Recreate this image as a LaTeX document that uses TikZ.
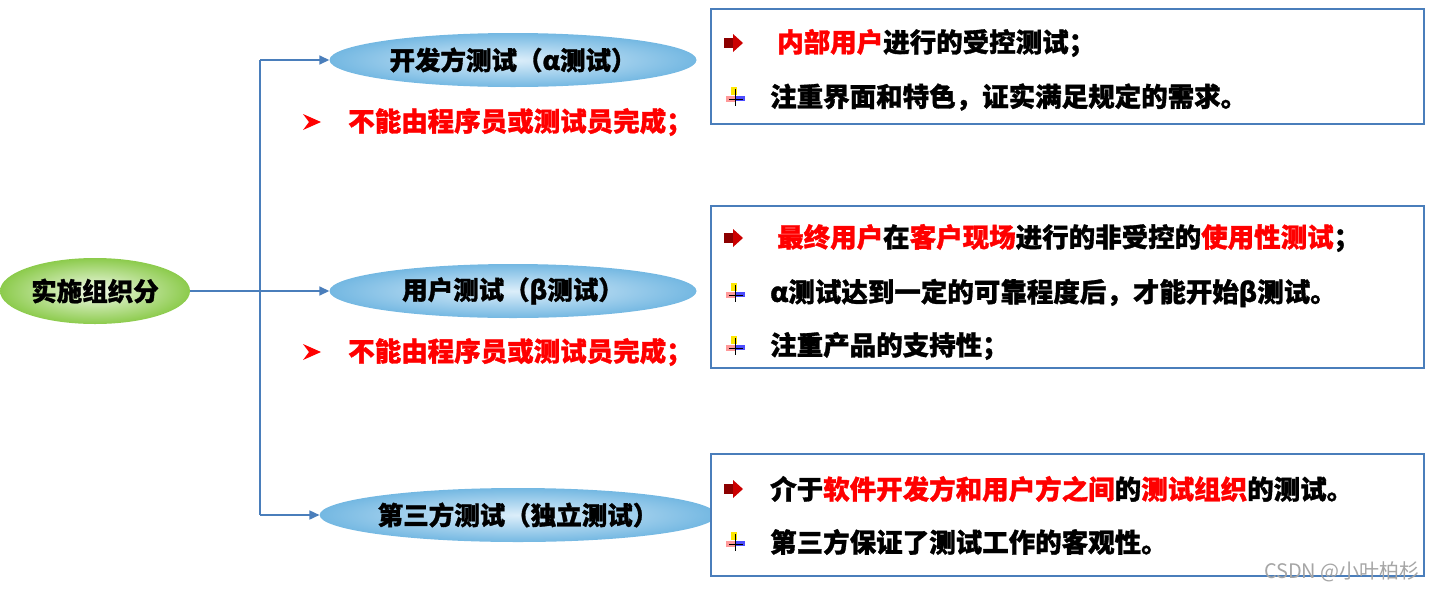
\documentclass[tikz,border=0pt]{standalone}
\usepackage{fontspec}
\setmainfont{Noto Sans CJK SC Bold}[FakeBold=1.2]
\newfontfamily\wmfont{Noto Sans CJK SC}
\usetikzlibrary{shapes.geometric,arrows.meta}
\definecolor{lnblue}{HTML}{4A7EBB}
\definecolor{rd}{HTML}{FF0000}
\definecolor{ellin}{HTML}{DCEEFA}
\definecolor{ellout}{HTML}{74B8E2}
\definecolor{grin}{HTML}{F2FAEA}
\definecolor{grout}{HTML}{8CCB4C}
\tikzset{
  blueell/.style={ellipse,inner sep=0pt,inner color=ellin,outer color=ellout,font=\bfseries\fontsize{25.5}{27}\selectfont},
  greenell/.style={ellipse,inner sep=0pt,inner color=grin,outer color=grout,font=\bfseries\fontsize{25.5}{27}\selectfont},
  conn/.style={draw=lnblue,line width=1.6pt},
  arr/.style={conn,-{Triangle[length=10pt,width=9pt]}},
  infobox/.style={draw=lnblue,line width=1.8pt,fill=white},
  txt/.style={anchor=west,inner sep=0pt,font=\bfseries\fontsize{26.5}{28}\selectfont},
  redtxt/.style={txt,text=rd},
}
\newcommand{\rarrowbullet}[2]{%
  \fill[red!55!black] (#1-9,#2-5) rectangle (#1,#2+5);
  \fill[red!80!black] (#1,#2-9) -- (#1+10,#2) -- (#1,#2+9) -- cycle;}
\newcommand{\crossbullet}[2]{%
  \fill[yellow!90!orange] (#1-4,#2-10) rectangle (#1+2,#2-2);
  \fill[red!40] (#1-9,#2-1) rectangle (#1,#2+5);
  \fill[blue!70] (#1,#2-1) rectangle (#1+10,#2+4);
  \draw[black,line width=1pt] (#1,#2-8) -- (#1,#2+9) (#1-6,#2+2) -- (#1+8,#2+2);}
\newcommand{\pointer}[2]{%
  \fill[rd] (#1-9,#2-8) -- (#1+9,#2) -- (#1-9,#2+8) -- (#1-3,#2) -- cycle;}
\begin{document}
\begin{tikzpicture}[x=1pt,y=-1pt]
\useasboundingbox (0,0) rectangle (1433,590);
% nodes
\node[greenell,minimum width=190pt,minimum height=66pt] (root) at (95,291) {实施组织分};
\node[blueell,minimum width=367pt,minimum height=54pt] (a) at (513,60) {开发方测试（α测试）};
\node[blueell,minimum width=367pt,minimum height=54pt] (b) at (513,291) {用户测试（β测试）};
\node[blueell,minimum width=357pt,minimum height=54pt] (c) at (518,515) {第三方测试（独立测试）};
\coordinate (j) at (260,291);
\draw[conn] (root.east) -- (j);
\draw[conn] (j) -- (260,60);
\draw[conn] (j) -- (260,515);
\draw[arr] (260,60) -- (a.west);
\draw[arr] (j) -- (b.west);
\draw[arr] (260,515) -- (c.west);
% red notes
\pointer{312}{122}
\node[redtxt] (na) at (348,122) {不能由程序员或测试员完成；};
\pointer{312}{352}
\node[redtxt] (nb) at (348,352) {不能由程序员或测试员完成；};
% boxes
\node[infobox,anchor=north west,minimum width=713pt,minimum height=115pt,inner sep=0pt] (ba) at (710,8) {};
\node[infobox,anchor=north west,minimum width=713pt,minimum height=162pt,inner sep=0pt] (bb) at (710,205) {};
\node[infobox,anchor=north west,minimum width=713pt,minimum height=122pt,inner sep=0pt] (bc) at (710,453) {};
% box 1
\rarrowbullet{733}{43}
\node[txt] (a1) at (777,43) {\textcolor{rd}{内部用户}进行的受控测试；};
\crossbullet{735}{97}
\node[txt] (a2) at (770,97) {注重界面和特色，证实满足规定的需求。};
% box 2
\rarrowbullet{733}{238}
\node[txt] (b1) at (777,238) {\textcolor{rd}{最终用户}在\textcolor{rd}{客户现场}进行的非受控的\textcolor{rd}{使用性测试}；};
\crossbullet{735}{293}
\node[txt] (b2) at (770,293) {α测试达到一定的可靠程度后，才能开始β测试。};
\crossbullet{735}{346}
\node[txt] (b3) at (770,346) {注重产品的支持性；};
% box 3
\rarrowbullet{733}{489}
\node[txt] (c1) at (770,489) {介于\textcolor{rd}{软件开发方和用户方之间}的\textcolor{rd}{测试组织}的测试。};
\crossbullet{735}{542}
\node[txt] (c2) at (770,542) {第三方保证了测试工作的客观性。};
% watermark
\node[anchor=east,inner sep=0pt,text=gray!70,font=\wmfont\fontsize{20}{22}\selectfont] (wm) at (1420,572) {CSDN @小叶柏杉};
\end{tikzpicture}
\end{document}
